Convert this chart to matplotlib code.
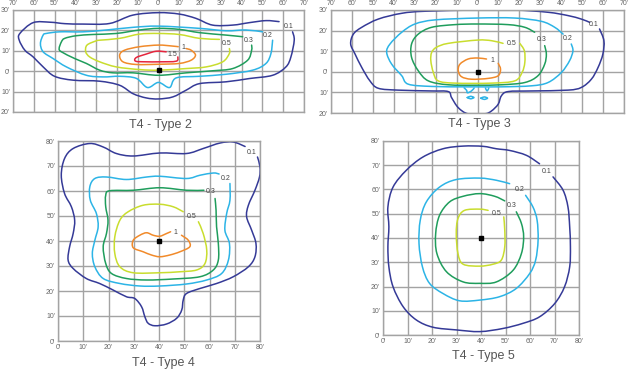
import matplotlib
matplotlib.use("Agg")
import matplotlib.pyplot as plt
from matplotlib.path import Path
from matplotlib.patches import PathPatch

plt.rcParams['font.family'] = ['Liberation Sans', 'DejaVu Sans']

# iso-footcandle lines, feet from the pole (x, y)
# T4 - Type 2
t2_c01 = [(64.5, 19.3), (65.3, 15.2), (63.7, 7), (61.3, 2.1), (54.9, -2), (43.7, -3.6), (32.5, -5.2),
          (19.7, -6.1), (13.3, -9.3), (6.9, -12.6), (0, -13.6), (-5.9, -13.1), (-12.3, -11), (-18.7, -6.9),
          (-28.3, -4.9), (-41, -4.4), (-50, -2.5), (-55.5, 2.1), (-60.3, 7), (-64.3, 10.3), (-67, 15.2),
          (-66.7, 18.5), (-60.3, 23.8), (-52, 24), (-45, 23.3), (-36.3, 23.1), (-23.5, 23.4), (-12.3, 27.5),
          (0, 28.7), (10, 28), (18, 25.9), (26, 22.6), (35.7, 22.6), (43.7, 23.8), (51.7, 24.8), (58, 24.3)]
t2_c02 = [(54.9, 15.2), (54.1, 8.7), (51.7, 3.8), (45.3, 0.5), (32.5, -1.5), (19.7, -2.5), (8.5, -3.3),
          (5.3, -8), (0, -5.5), (-5.3, -8), (-10.7, -3.5), (-18.7, -2.5), (-26.7, -2.8), (-34.7, -2),
          (-44.3, 2.1), (-50.7, 6.2), (-55.5, 9.5), (-56.8, 13.6), (-55.5, 17.7), (-54, 18.5), (-47.5, 19.3),
          (-36.3, 19.3), (-25, 20.2), (-12.3, 21.5), (0, 22.1), (19.7, 21), (32.5, 19.8), (42, 20.2), (50.1, 19.3)]
t2_c03 = [(44.8, 12.8), (44.8, 10.3), (42.9, 5.4), (35.7, 1.3), (26, 0.2), (13.3, -0.8), (0, -2),
          (-12.3, -0.8), (-21.9, -0.8), (-28.3, 0.5), (-34.7, 3.8), (-40.3, 6.2), (-46.7, 9.5), (-47.8, 11.1),
          (-46.7, 14.4), (-45.1, 16.1), (-39.5, 17.4), (-31.5, 18), (-20.3, 18.5), (-9.1, 20.2), (0, 21),
          (10, 20.5), (19.7, 18.9), (32.5, 17.7), (40.5, 16.9)]
t2_c05 = [(34.1, 11.1), (34.1, 8.7), (30.9, 4.6), (22.9, 2.1), (13.3, 1.3), (0, 0.5), (-9.1, 0.8),
          (-20.3, 2.1), (-28.3, 4.6), (-33.1, 7), (-35, 9.5), (-34.4, 12.8), (-29.9, 14.9), (-28.3, 15.2),
          (-18.7, 16.1), (-9.1, 18.2), (0, 18.5), (10, 18), (19.7, 16.1), (29.3, 15.6)]
t2_c1 = [(13.3, 11.1), (15.7, 10.3), (17.8, 7.9), (15.7, 5.4), (10, 3.8), (0, 3.4), (-10.7, 3.3),
         (-17.1, 4.6), (-18.7, 7.9), (-16.3, 10.3), (-9.1, 12), (0, 12.8), (6.9, 12.3), (9.5, 12)]
t2_c15 = [(9.3, 7), (8.5, 4.9), (0.5, 4.6), (-5.9, 4.6), (-11, 4.9), (-10.7, 6.7), (-5.9, 8.4),
          (-1.1, 9.8), (3.7, 9.5)]

# T4 - Type 3
t3_c01 = [(58.3, 20.8), (60.4, 15.1), (59.9, 8.6), (57.6, 2.1), (54.4, -3.6), (49.6, -7.6), (43.2, -8.9),
          (25.8, -9.3), (14.6, -9.6), (11.4, -11.7), (9.9, -15.7), (6.7, -19), (3.5, -20.4), (-4.5, -20.4),
          (-9.2, -17.4), (-12.4, -12.5), (-14, -9.6), (-21.9, -9.3), (-37.8, -8.9), (-47.4, -8),
          (-51.4, -4.4), (-55.3, 2.1), (-58.5, 8.6), (-60.6, 13.5), (-59.3, 18.3), (-55.3, 21.6),
          (-47.4, 25.6), (-36.2, 28.4), (-25.1, 29.4), (0, 30), (17.8, 30), (33.7, 28.9), (43.2, 27.3),
          (49.6, 25.6), (53.6, 24)]
t3_c02 = [(44.8, 13.5), (45.6, 10.2), (44, 5.4), (40.1, -0.3), (33.7, -5.2), (25.8, -6.8), (11.4, -7.3),
          (0, -7.3), (-6, -7.3), (-21.9, -7.1), (-33.1, -6), (-36.2, -1.9), (-41, 3.7), (-43.4, 9.4),
          (-41.8, 13.5), (-36.2, 19.2), (-29.9, 23.2), (-20.3, 25.2), (0, 26.1), (17.8, 26.1), (30.5, 24.5),
          (36.9, 21.6), (40.9, 18.3)]
t3_c02_a = [(-6.4, -7.8), (-5.2, -9), (-4.8, -10.2), (-2.9, -9.3), (-1.6, -7.9)]
t3_c02_b = [(3.8, -7.9), (4.6, -9.3), (5.4, -7.9)]
t3_c02_c = [(-4.9, -12.5), (-3.3, -11.9), (-1.7, -12.5), (-3.3, -13.1), (-4.9, -12.5)]
t3_c02_d = [(1.6, -12.8), (3.2, -12.2), (4.8, -12.8), (3.2, -13.4), (1.6, -12.8)]
t3_c03 = [(32.1, 12.7), (32.9, 8.6), (32.1, 3.7), (28.9, -1.9), (22.6, -5.2), (11.4, -6.3), (0, -6.5),
          (-14, -6.3), (-23.5, -4.4), (-28.3, 0.5), (-31.5, 7), (-31.5, 13.5), (-28.3, 18.3), (-21.9, 21.6),
          (-10.8, 22.9), (0, 23.2), (14.6, 22.9), (22.6, 21.6), (27.3, 19.2)]
t3_c05 = [(20.2, 13.8), (22.4, 10.2), (22.6, 4.5), (21.3, -0.3), (17.8, -4.4), (6.7, -5.5), (-10.8, -5.5),
          (-18.8, -4.4), (-21.1, -0.3), (-22.3, 5.4), (-21.9, 9.4), (-19.6, 11.9), (-14, 13.8), (0, 15.4),
          (6.7, 15.1), (12.2, 13.8)]
t3_c1 = [(9.9, 4.1), (11, 1.3), (9.9, -1.9), (5.1, -3.2), (-2.9, -3.6), (-7.6, -2.4), (-9.2, 0.5),
         (-8.4, 3.7), (-4.5, 6.2), (0, 6.7), (4.3, 6.2)]

# T4 - Type 4
t4_c01 = [(79, 73.6), (80, 69.6), (79.8, 65.6), (78, 60.3), (75.4, 54.3), (74.7, 49.7), (76.7, 44.3),
          (78.4, 39), (78, 33.7), (75.4, 29.7), (69.4, 25.7), (62.8, 23), (56.2, 21), (50.9, 19),
          (49.6, 16.4), (49, 12.4), (47, 9.1), (43, 6.8), (38.4, 6.1), (35.7, 7.1), (34.4, 9.7),
          (33.1, 13.7), (30.4, 17), (27.1, 17.7), (21.8, 20.4), (16.5, 23), (11.2, 25), (6, 29), (4, 32.4),
          (4.6, 37.7), (6, 43), (6.6, 48.3), (5.3, 53.7), (2.6, 59), (1.3, 66.3), (2.6, 73), (6, 77),
          (12.6, 79), (17.9, 77.6), (23.1, 75), (29.8, 74), (40.3, 75.2), (50.9, 75), (57.5, 77),
          (64.2, 79.2), (69.4, 79.6), (74.1, 77.8)]
t4_c02 = [(68.1, 63), (68.1, 56.3), (66.8, 51), (66.1, 44.3), (67.9, 39), (67.5, 32.4), (64.8, 27),
          (58.9, 24.4), (50.9, 22.8), (40.3, 22), (32.4, 22), (24.5, 23), (17.9, 25), (14.6, 29.7),
          (13.6, 35), (14.6, 40.3), (15.9, 45.7), (15.2, 51), (12.8, 56.3), (12.6, 61.7), (14.6, 65),
          (19.2, 65.6), (27.1, 64.6), (35.1, 65.6), (40.3, 65.9), (50.9, 65), (56.2, 66.3), (61.5, 67.2),
          (63.8, 66.8)]
t4_c03 = [(57.8, 60.3), (50.9, 60.3), (40.3, 61.3), (29.8, 60.3), (20.5, 60.1), (18.9, 58.3), (18.9, 53.7),
          (19.8, 48.3), (19.2, 43), (17.9, 37.7), (18.9, 31), (21.2, 27), (27.1, 25), (35.1, 24.4),
          (45.6, 24.8), (56.2, 25.7), (61.5, 28.4), (63.5, 32.4), (63.5, 39), (62.8, 45.7), (62.6, 52.3),
          (62.2, 57)]
t4_c05 = [(55.6, 47.7), (57.5, 43), (58.9, 36.4), (58.2, 31), (54.9, 28.4), (48.3, 27.7), (40.3, 27.3),
          (29.8, 27.3), (24.5, 29.7), (22.5, 35), (22.5, 41.7), (24.5, 48.3), (27.8, 51.7), (33.7, 54.3),
          (40.3, 54.7), (45.6, 53.7), (49.6, 51.7)]
t4_c1 = [(48.9, 42.3), (51.6, 40.3), (52.2, 37.7), (48.3, 35.7), (44.3, 34.4), (40.3, 33.7), (37, 34.4),
         (33.7, 35.7), (29.8, 37.3), (29.8, 40.3), (32.4, 42.3), (35.1, 43.3), (37.7, 42.3), (40.3, 41.9),
         (43, 43), (44.6, 43.7)]

# T4 - Type 5
t5_c01 = [(69.4, 65.2), (73.5, 59.7), (75.5, 52.8), (76.2, 44.6), (76.5, 36.4), (76.2, 28.1), (74.1, 19.9),
          (70.1, 13), (63.9, 7.5), (57.1, 4.8), (49, 2.7), (39.5, 1.4), (29.9, 2.1), (20.4, 3.2), (13.6, 6.2),
          (8.2, 11.7), (4.1, 19.9), (2.4, 28.1), (2, 36.4), (2.4, 44.6), (2, 52.8), (4.1, 61), (9.5, 67.9),
          (16.3, 73.4), (24.5, 76.8), (32.7, 77.9), (40.8, 77.8), (46.3, 76.8), (51.7, 76.1), (58.5, 74.1),
          (63.9, 70.6)]
t5_c02 = [(58.2, 57.6), (61.2, 52.8), (62.9, 47.3), (63.3, 39.1), (62.3, 30.9), (59.9, 25.4), (54.4, 19.2),
          (47.6, 15.8), (39.5, 14.4), (31.3, 14.1), (24.5, 17.1), (19, 21.3), (16.1, 28.1), (14.7, 37.7),
          (15.2, 47.3), (17.7, 54.9), (23.1, 61), (29.9, 64.1), (39.5, 64.7), (46.3, 63.8), (51.7, 62.4)]
t5_c03 = [(54.4, 50.8), (56.5, 46), (57.4, 40.5), (56.5, 33.6), (53.1, 26.7), (46.3, 21.9), (39.5, 21.3),
          (32.7, 21.9), (25.9, 26.1), (22, 33.6), (21.5, 41.8), (23.1, 49.4), (27.2, 54.9), (32.7, 57.2),
          (39.5, 58.3), (45.6, 57.2), (49.7, 55.3)]
t5_c05 = [(49.3, 48.7), (49.7, 43.2), (49.7, 36.4), (48.3, 30.9), (44.9, 29.2), (39.5, 28.4), (32.7, 29.2),
          (30.6, 33.6), (29.9, 41.8), (30.6, 48), (33.3, 51.4), (39.5, 51.9), (42.9, 51.4)]

# label text and where it sits
t2_labels = [("0.1", 62.7, 21.8), ("0.2", 52.3, 17.7), ("0.3", 43.5, 15.0), ("0.5", 32.8, 13.4),
             ("1", 12.0, 11.6), ("1.5", 6.6, 8.4)]
t3_labels = [("0.1", 55.6, 22.9), ("0.2", 42.9, 16.4), ("0.3", 30.5, 15.9), ("0.5", 16.2, 13.5),
             ("1", 7.0, 5.4)]
t4_labels = [("0.1", 76.7, 75.4), ("0.2", 66.5, 65.2), ("0.3", 60.4, 59.7), ("0.5", 52.9, 49.7),
             ("1", 46.6, 43.4)]
t5_labels = [("0.1", 66.9, 67.6), ("0.2", 55.8, 59.9), ("0.3", 52.4, 53.5), ("0.5", 46.3, 50.3)]

NAVY = '#353a97'
BLUE = '#2cb4e6'
GREEN = '#1f9d5c'
YELLOW = '#c9dd2e'
ORANGE = '#f18a2a'
RED = '#e5253d'

W, H = 632, 370
fig = plt.figure(figsize=(W / 100, H / 100), dpi=100)


def box(left, top, right, bottom):
    return [left / W, 1 - bottom / H, (right - left) / W, (bottom - top) / H]


def setup(ax, xr, yr, top_ticks):
    ax.set_xlim(xr[0], xr[-1])
    ax.set_ylim(yr[0], yr[-1])
    ax.set_xticks(xr)
    ax.set_yticks(yr)
    ax.set_xticklabels(["%d'" % abs(v) for v in xr])
    ax.set_yticklabels(["%d'" % abs(v) for v in yr])
    if top_ticks:
        ax.xaxis.tick_top()
    ax.tick_params(length=0, labelsize=5, labelcolor='#666666', pad=2)
    ax.grid(True, color='#a3a3a3', lw=1.0)
    ax.set_axisbelow(True)
    for s in ax.spines.values():
        s.set_color('#a3a3a3')
        s.set_linewidth(1.0)


def line(ax, pts, color):
    # smooth curve through the points (catmull-rom as cubic bezier)
    n = len(pts)
    verts = [pts[0]]
    codes = [Path.MOVETO]
    for i in range(n - 1):
        p0 = pts[i - 1] if i > 0 else pts[i]
        p1 = pts[i]
        p2 = pts[i + 1]
        p3 = pts[i + 2] if i + 2 < n else pts[i + 1]
        c1 = (p1[0] + (p2[0] - p0[0]) / 6, p1[1] + (p2[1] - p0[1]) / 6)
        c2 = (p2[0] - (p3[0] - p1[0]) / 6, p2[1] - (p3[1] - p1[1]) / 6)
        verts += [c1, c2, p2]
        codes += [Path.CURVE4] * 3
    ax.add_patch(PathPatch(Path(verts, codes), fill=False, edgecolor=color, lw=1.1,
                           joinstyle='round', capstyle='round'))


def labels(ax, items):
    for t, x, y in items:
        ax.text(x, y, t, fontsize=5, color='#444444', ha='center', va='center')


# Type 2
ax1 = fig.add_axes(box(13, 10, 304, 112))
setup(ax1, list(range(-70, 71, 10)), list(range(-20, 31, 10)), True)
line(ax1, t2_c01, NAVY)
line(ax1, t2_c02, BLUE)
line(ax1, t2_c03, GREEN)
line(ax1, t2_c05, YELLOW)
line(ax1, t2_c1, ORANGE)
line(ax1, t2_c15, RED)
labels(ax1, t2_labels)
ax1.plot([0], [0.4], 's', color='black', ms=3.5)

# Type 3
ax2 = fig.add_axes(box(331, 10, 624, 113))
setup(ax2, list(range(-70, 71, 10)), list(range(-20, 31, 10)), True)
line(ax2, t3_c01, NAVY)
line(ax2, t3_c02, BLUE)
line(ax2, t3_c02_a, BLUE)
line(ax2, t3_c02_b, BLUE)
line(ax2, t3_c02_c, BLUE)
line(ax2, t3_c02_d, BLUE)
line(ax2, t3_c03, GREEN)
line(ax2, t3_c05, YELLOW)
line(ax2, t3_c1, ORANGE)
labels(ax2, t3_labels)
ax2.plot([0], [0], 's', color='black', ms=3.5)

# Type 4
ax3 = fig.add_axes(box(58, 141, 260, 341))
setup(ax3, list(range(0, 81, 10)), list(range(0, 81, 10)), False)
line(ax3, t4_c01, NAVY)
line(ax3, t4_c02, BLUE)
line(ax3, t4_c03, GREEN)
line(ax3, t4_c05, YELLOW)
line(ax3, t4_c1, ORANGE)
labels(ax3, t4_labels)
ax3.plot([40], [40], 's', color='black', ms=3.5)

# Type 5
ax4 = fig.add_axes(box(383, 141, 579, 335))
setup(ax4, list(range(0, 81, 10)), list(range(0, 81, 10)), False)
line(ax4, t5_c01, NAVY)
line(ax4, t5_c02, BLUE)
line(ax4, t5_c03, GREEN)
line(ax4, t5_c05, YELLOW)
labels(ax4, t5_labels)
ax4.plot([40], [40], 's', color='black', ms=3.5)

titles = [("T4 - Type 2", 160, 125), ("T4 - Type 3", 479, 124),
          ("T4 - Type 4", 163, 363), ("T4 - Type 5", 483, 356)]
for t, x, y in titles:
    fig.text(x / W, 1 - y / H, t, fontsize=9, color='#555555', ha='center', va='center')

fig.savefig("out.png", dpi=100, facecolor='white')
